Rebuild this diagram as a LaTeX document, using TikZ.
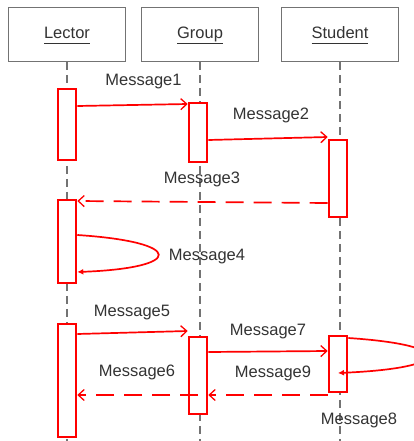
\documentclass[tikz,border=0pt]{standalone}
\usepackage{fontspec}
\setmainfont{Liberation Sans}
\usetikzlibrary{arrows.meta}
\newcommand\hdrul[1]{\underline{\smash{#1}\rule[-2.5pt]{0pt}{2.5pt}}}
\begin{document}
\begin{tikzpicture}[x=1pt,y=-1pt,
  hdr/.style={draw=black!55,line width=0.9pt,fill=white,minimum width=117pt,minimum height=54pt,inner sep=0pt},
  life/.style={draw=black!55,line width=1.3pt,dash pattern=on 8pt off 5pt},
  act/.style={draw=red,line width=2.6pt,fill=white,minimum width=18pt,inner sep=0pt},
  msg/.style={draw=red,line width=1.7pt,-{Straight Barb[length=6pt,width=11pt,line width=1.3pt]}},
  ret/.style={msg,dash pattern=on 18pt off 10pt},
  self/.style={draw=red,line width=1.7pt,-{Latex[length=6pt,width=6pt]}},
  lbl/.style={text=black!80,font=\fontsize{16.5}{18}\selectfont,inner sep=0pt,anchor=base}
]
\useasboundingbox (0,0) rectangle (414,441);
% headers
\node[hdr] (hl) at (67,34.5) {};
\node[hdr] (hg) at (200,34.5) {};
\node[hdr] (hs) at (340,34.5) {};
\node[lbl] (tl) at (hl.center |- 0,39) {\hdrul{Lector}};
\node[lbl] (tg) at (hg.center |- 0,39) {\hdrul{Group}};
\node[lbl] (ts) at (hs.center |- 0,39) {\hdrul{Student}};
% lifeline ends
\coordinate (el) at (67,441);
\coordinate (eg) at (200,441);
\coordinate (es) at (340,441);
\draw[life] (hl.south) -- (el);
\draw[life] (hg.south) -- (eg);
\draw[life] (hs.south) -- (es);
% activations
\node[act,minimum height=71pt] (la1) at (67,124.5) {};
\node[act,minimum height=59pt] (ga1) at (198,132.5) {};
\node[act,minimum height=77pt] (sa1) at (338,178.5) {};
\node[act,minimum height=83pt] (la2) at (67,241.5) {};
\node[act,minimum height=113pt] (la3) at (67,380.5) {};
\node[act,minimum height=77pt] (ga2) at (198,375.5) {};
\node[act,minimum height=56pt] (sa2) at (338,364) {};
% messages
\draw[msg] (la1.east |- 0,106) -- (ga1.west |- 0,104);
\node[lbl] (m1) at (143.5,86) {Message1};
\draw[msg] (ga1.east |- 0,140) -- (sa1.west |- 0,137);
\node[lbl] (m2) at (271,119) {Message2};
\draw[ret] (sa1.west |- 0,203) -- (la2.east |- 0,201);
\node[lbl] (m3) at (202,183) {Message3};
\draw[self] (la2.east |- 0,235) .. controls (185,242) and (185,268) .. (la2.east |- 0,272);
\node[lbl] (m4) at (207,260) {Message4};
\draw[msg] (la3.east |- 0,334) -- (ga2.west |- 0,331);
\node[lbl] (m5) at (132,316) {Message5};
\draw[ret] (ga2.center |- 0,395) -- (la3.east |- 0,395);
\node[lbl] (m6) at (137,376) {Message6};
\draw[msg] (ga2.east |- 0,352) -- (sa2.west |- 0,351);
\node[lbl] (m7) at (268,335) {Message7};
\draw[self] (sa2.east |- 0,338) .. controls (455,345) and (455,368) .. (sa2.center |- 0,373);
\node[lbl] (m8) at (359,424) {Message8};
\draw[ret] (sa2.west |- 0,395) -- (ga2.east |- 0,395);
\node[lbl] (m9) at (273,377) {Message9};
\end{tikzpicture}
\end{document}
